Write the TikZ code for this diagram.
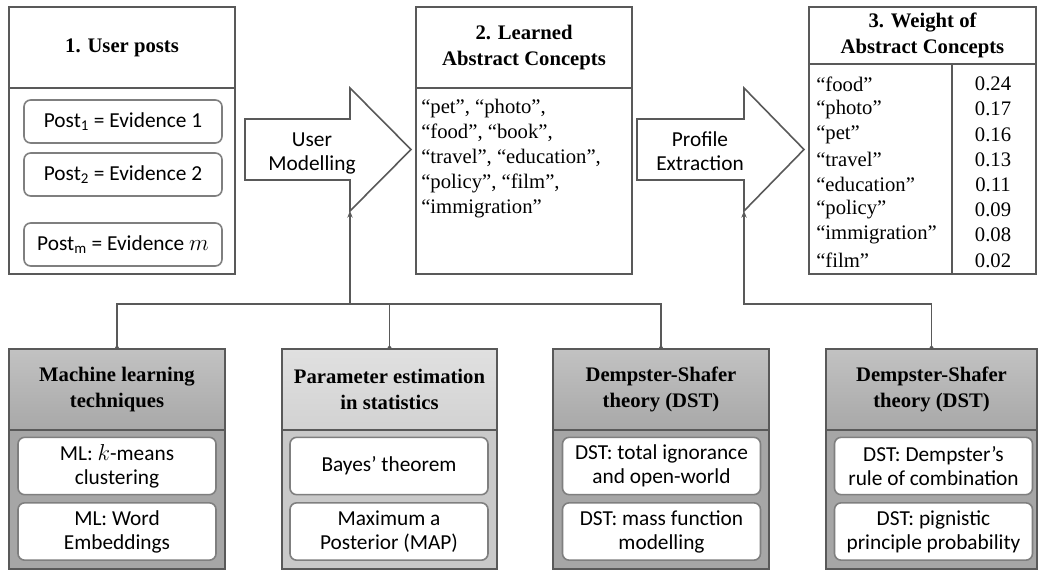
\documentclass[tikz,border=0pt]{standalone}
\usepackage{fontspec}
\setmainfont{Liberation Serif}
\setsansfont{Carlito}
\usetikzlibrary{arrows.meta}

\definecolor{edgegray}{HTML}{595959}
\definecolor{itemgray}{HTML}{7F7F7F}
\definecolor{darktop}{HTML}{C2C2C2}
\definecolor{darkbot}{HTML}{A8A8A8}
\definecolor{darkbody}{HTML}{A6A6A6}
\definecolor{lighttop}{HTML}{E0E0E0}
\definecolor{lightbot}{HTML}{D2D2D2}
\definecolor{lightbody}{HTML}{C9C9C9}

\newcommand{\headfont}{\fontsize{15.5}{19.5}\selectfont\bfseries}
\newcommand{\bodyfont}{\fontsize{15.5}{18.8}\selectfont}
\newcommand{\calfont}{\sffamily\fontsize{16}{18}\selectfont}

\tikzset{
  frame/.style={draw=edgegray, line width=1.2pt, inner sep=0pt, outer sep=0pt},
  itembox/.style={draw=itemgray, fill=white, line width=1.2pt, rounded corners=5pt,
    minimum width=148.5pt, align=center, font=\calfont, inner sep=0pt},
  tophead/.style={frame, fill=white, anchor=north, align=center, font=\headfont},
  cathead/.style={frame, minimum height=60.75pt, anchor=north, align=center, font=\headfont},
  darkhead/.style={cathead, top color=darktop, bottom color=darkbot},
  lighthead/.style={cathead, top color=lighttop, bottom color=lightbot},
  catbody/.style={frame, minimum height=104.25pt, anchor=north},
  link/.style={draw=edgegray, line width=1.2pt},
}

\begin{document}
\begin{tikzpicture}[x=0.75pt, y=-0.75pt]
\useasboundingbox (0,0) rectangle (1038,570);

% 1. user posts
\node[tophead, minimum width=169.5pt, minimum height=60.75pt] (postsH) at (122,7) {1. User posts};
\node[frame, fill=white, minimum width=169.5pt, minimum height=139.5pt, anchor=north] (postsB) at (postsH.south) {};
\node[itembox, minimum height=32.25pt] (post1) at (123,121.5) {Post\textsubscript{1} = Evidence 1};
\node[itembox, minimum height=32.25pt] (post2) at (123,174.5) {Post\textsubscript{2} = Evidence 2};
\node[itembox, minimum height=32.25pt] (postm) at (123,244.5) {Post\textsubscript{m} = Evidence $m$};

% 2. learned concepts
\node[tophead, minimum width=162pt, minimum height=60.75pt] (learnH) at (524,7) {2. Learned\\Abstract Concepts};
\node[frame, fill=white, minimum width=162pt, minimum height=139.5pt, anchor=north] (learnB) at (learnH.south) {};
\node[anchor=north west, align=left, inner sep=0pt, font=\bodyfont] (learnT) at (421,99)
  {“pet”, “photo”,\\“food”, “book”,\\“travel”, “education”,\\“policy”, “film”,\\“immigration”};

% 3. weights
\node[tophead, minimum width=170.25pt, minimum height=42.75pt] (weightH) at (922.5,7) {3. Weight of\\Abstract Concepts};
\node[frame, fill=white, minimum width=170.25pt, minimum height=157.5pt, anchor=north] (weightB) at (weightH.south) {};
\draw[link] (952,64) -- (952,274);
\foreach \w/\v [count=\i] in {food/0.24, photo/0.17, pet/0.16, travel/0.13,
    education/0.11, policy/0.09, immigration/0.08, film/0.02} {
  \node[anchor=west, inner sep=0pt, font=\bodyfont] (w\i) at (816,84+25.2*\i-25.2) {“\w”};
  \node[inner sep=0pt, font=\bodyfont] (v\i) at (993,84+25.2*\i-25.2) {\v};
}

% block arrows
\draw[frame, fill=white] (245,119) -- (350,119) -- (350,88) -- (411,149.5) -- (350,211)
  -- (350,180) -- (245,180) -- cycle;
\node[font=\calfont, align=center] (umLabel) at (312,153) {User\\Modelling};
\coordinate (umFoot) at (350,211);
\draw[frame, fill=white] (637,119) -- (744,119) -- (744,88) -- (804,149.5) -- (744,211)
  -- (744,180) -- (637,180) -- cycle;
\node[font=\calfont, align=center] (peLabel) at (700,151) {Profile\\Extraction};
\coordinate (peFoot) at (744,211);

% methods
\node[darkhead, minimum width=162pt] (mlH) at (117,349) {Machine learning\\techniques};
\node[catbody, fill=darkbody, minimum width=162pt] (mlB) at (mlH.south) {};
\node[itembox, minimum height=43pt] (ml1) at (117,466) {ML: $k$-means\\clustering};
\node[itembox, minimum height=43pt] (ml2) at (117,531.5) {ML: Word\\Embeddings};

\node[lighthead, minimum width=161.25pt] (psH) at (389.5,349) {Parameter estimation\\in statistics};
\node[catbody, fill=lightbody, minimum width=161.25pt] (psB) at (psH.south) {};
\node[itembox, minimum height=43pt] (ps1) at (389,466) {Bayes’ theorem};
\node[itembox, minimum height=43pt] (ps2) at (389,531.5) {Maximum a\\Posterior (MAP)};

\node[darkhead, minimum width=162pt] (dsaH) at (661,349) {Dempster-Shafer\\theory (DST)};
\node[catbody, fill=darkbody, minimum width=162pt] (dsaB) at (dsaH.south) {};
\node[itembox, minimum height=43pt] (dsa1) at (661.5,466) {DST: total ignorance\\and open-world};
\node[itembox, minimum height=43pt] (dsa2) at (661.5,531.5) {DST: mass function\\modelling};

\node[darkhead, minimum width=158pt] (dsbH) at (931.5,349) {Dempster-Shafer\\theory (DST)};
\node[catbody, fill=darkbody, minimum width=158pt] (dsbB) at (dsbH.south) {};
\node[itembox, minimum height=43pt] (dsb1) at (933.5,466) {DST: Dempster’s\\rule of combination};
\node[itembox, minimum height=43pt] (dsb2) at (933.5,531.5) {DST: pignistic\\principle probability};

% connectors
\coordinate (umBus) at (350,304);
\draw[link, {Circle[length=2.5pt]}-{Circle[length=2.5pt]}] (mlH.north) |- (umBus) -| (dsaH.north);
\draw[link, {Circle[length=2.5pt]}-] (psH.north) -- (psH.north |- umBus);
\draw[link, -{Stealth[length=5pt,width=4pt]}] (umBus) -- (umFoot);
\draw[link, {Circle[length=2.5pt]}-{Stealth[length=5pt,width=4pt]}] (dsbH.north) |- (peFoot |- umBus) -- (peFoot);
\end{tikzpicture}
\end{document}
